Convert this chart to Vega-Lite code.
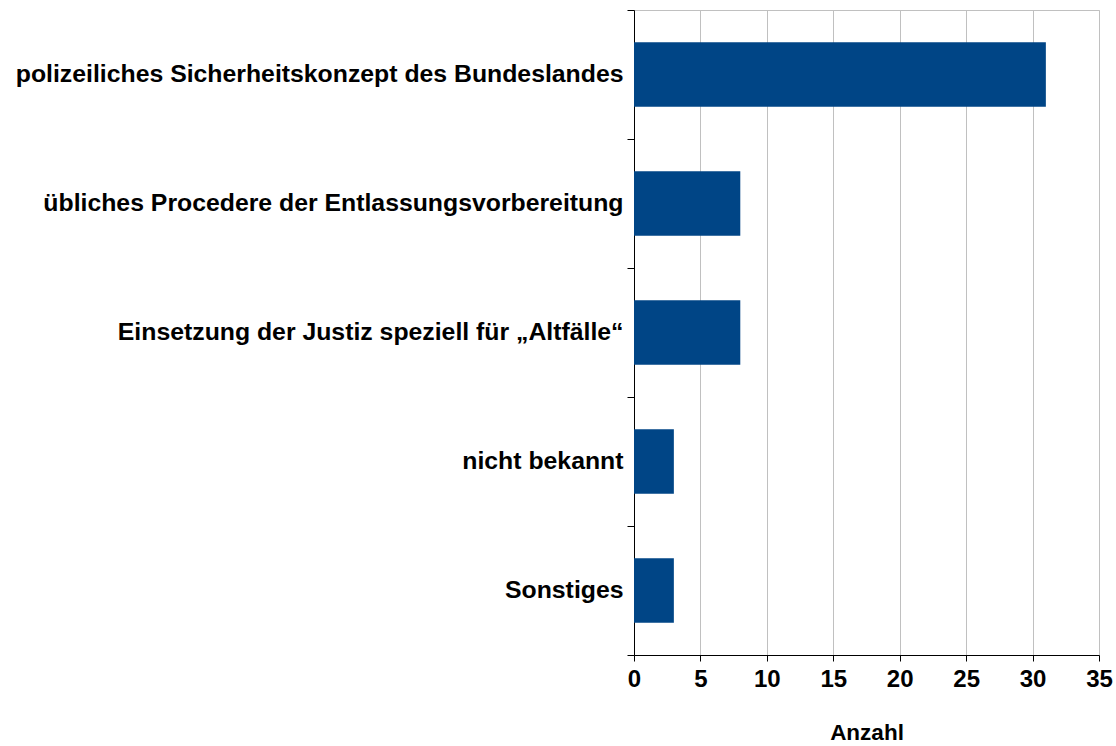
{
  "$schema": "https://vega.github.io/schema/vega-lite/v6.json",
  "autosize": "none",
  "width": 465,
  "height": 645,
  "padding": {"left": 634, "top": 10, "right": 17, "bottom": 91},
  "background": "white",
  "config": {
    "font": "Liberation Sans",
    "view": {"stroke": "#c0c0c0", "strokeWidth": 1}
  },
  "data": {
    "values": [
      {"kategorie": "polizeiliches Sicherheitskonzept des Bundeslandes", "anzahl": 31},
      {"kategorie": "übliches Procedere der Entlassungsvorbereitung", "anzahl": 8},
      {"kategorie": "Einsetzung der Justiz speziell für „Altfälle“", "anzahl": 8},
      {"kategorie": "nicht bekannt", "anzahl": 3},
      {"kategorie": "Sonstiges", "anzahl": 3}
    ]
  },
  "mark": {"type": "bar", "color": "#004586", "height": {"band": 0.5}},
  "encoding": {
    "y": {
      "field": "kategorie",
      "type": "nominal",
      "sort": null,
      "title": null,
      "scale": {"paddingInner": 0, "paddingOuter": 0},
      "axis": {
        "domainColor": "#000000",
        "tickColor": "#000000",
        "tickBand": "extent",
        "tickSize": 7,
        "labelFont": "Liberation Sans",
        "labelFontSize": 24.8,
        "labelFontWeight": "bold",
        "labelColor": "#000000",
        "labelPadding": 4,
        "labelLimit": 700,
        "grid": false
      }
    },
    "x": {
      "field": "anzahl",
      "type": "quantitative",
      "title": "Anzahl",
      "scale": {"domain": [0, 35], "nice": false},
      "axis": {
        "values": [0, 5, 10, 15, 20, 25, 30, 35],
        "domainColor": "#000000",
        "tickColor": "#000000",
        "tickSize": 6,
        "gridColor": "#c0c0c0",
        "labelFont": "Liberation Sans",
        "labelFontSize": 24,
        "labelFontWeight": "bold",
        "labelColor": "#000000",
        "labelPadding": 6,
        "labelFlush": false,
        "titleFont": "Liberation Sans",
        "titleFontSize": 22.5,
        "titleFontWeight": "bold",
        "titleColor": "#000000",
        "titlePadding": 30
      }
    }
  }
}
